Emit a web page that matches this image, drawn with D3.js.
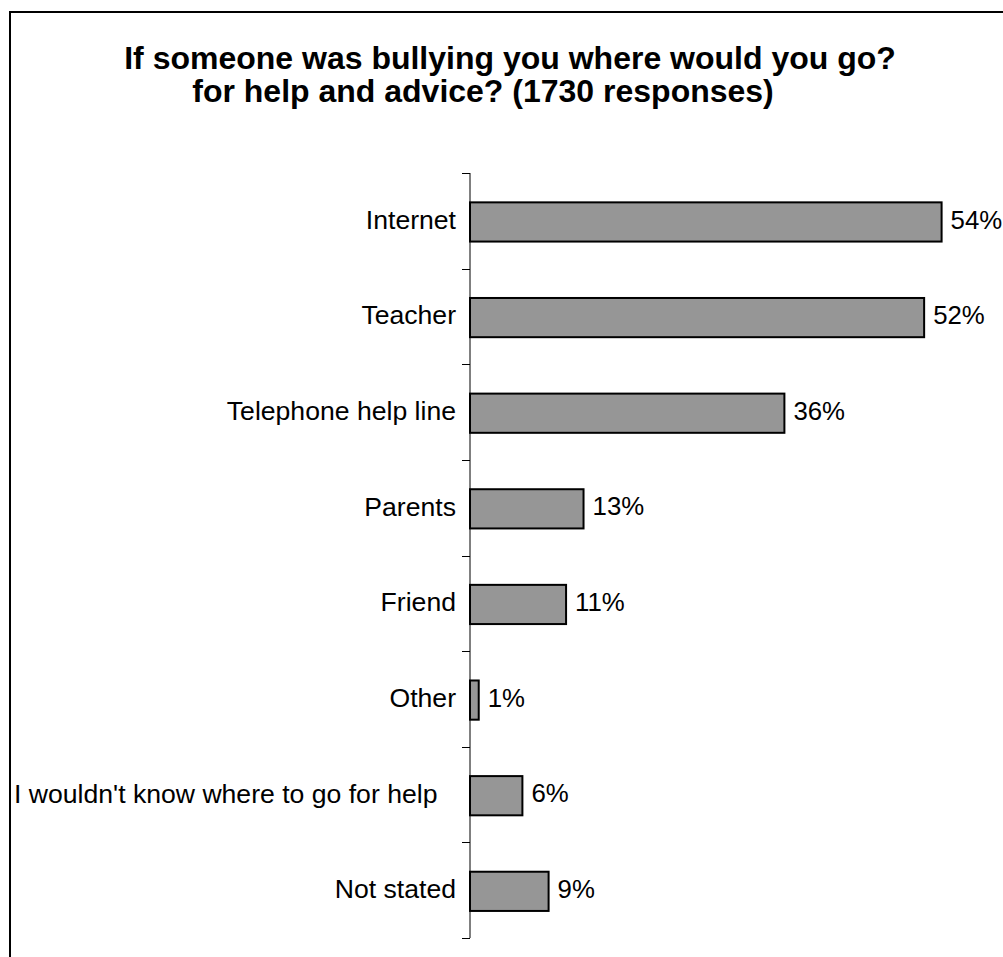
<!DOCTYPE html>
<html>
<head>
<meta charset="utf-8">
<script src="https://cdnjs.cloudflare.com/ajax/libs/d3/7.8.5/d3.min.js"></script>
<style>
  body { margin: 0; background: #fff; }
  text { font-family: "Liberation Sans", Arial, sans-serif; fill: #000; }
</style>
</head>
<body>
<div class="chart"></div>
<script>
// chart data
var categories = ["Internet", "Teacher", "Telephone help line", "Parents", "Friend",
  "Other", "I wouldn't know where to go for help", "Not stated"];
var percents = [54, 52, 36, 13, 11, 1, 6, 9];
var titleLines = ["If someone was bullying you where would you go?",
  "for help and advice? (1730 responses)"];

var svgWidth = 1003;
var svgHeight = 957;

var margin = {
  top: 173,
  left: 470,
  bottom: 19
};

var svg = d3
  .select(".chart")
  .append("svg")
  .attr("width", svgWidth)
  .attr("height", svgHeight);

// outer frame (runs off the right and bottom of the picture)
svg.append("rect")
  .attr("x", 10)
  .attr("y", 12)
  .attr("width", 1100)
  .attr("height", 1100)
  .attr("fill", "none")
  .attr("stroke", "#000")
  .attr("stroke-width", 2);

// title
svg.append("text")
  .attr("x", 510)
  .attr("y", 69)
  .attr("text-anchor", "middle")
  .style("font-size", "32px")
  .style("font-weight", "bold")
  .text(titleLines[0]);

svg.append("text")
  .attr("x", 483)
  .attr("y", 102)
  .attr("text-anchor", "middle")
  .style("font-size", "32px")
  .style("font-weight", "bold")
  .text(titleLines[1]);

// scales
var yScale = d3.scaleBand()
  .domain(categories)
  .range([margin.top, svgHeight - margin.bottom])
  .padding(0);

var xScale = d3.scaleLinear()
  .domain([0, 60])
  .range([margin.left, margin.left + 524]);

var step = yScale.step();

// category axis: line plus ticks on the band boundaries
var axisGroup = svg.append("g");

axisGroup.append("line")
  .attr("x1", margin.left)
  .attr("x2", margin.left)
  .attr("y1", yScale.range()[0])
  .attr("y2", yScale.range()[1])
  .attr("stroke", "#000")
  .attr("stroke-width", 1);

var tickPos = categories.map(d => yScale(d)).concat([yScale.range()[1]]);

axisGroup.selectAll(".tick")
  .data(tickPos)
  .enter()
  .append("line")
  .attr("class", "tick")
  .attr("x1", margin.left - 8)
  .attr("x2", margin.left)
  .attr("y1", d => Math.round(d) + 0.5)
  .attr("y2", d => Math.round(d) + 0.5)
  .attr("stroke", "#000")
  .attr("stroke-width", 1);

// bars
svg.selectAll(".bar")
  .data(percents)
  .enter()
  .append("rect")
  .attr("class", "bar")
  .attr("x", xScale(0))
  .attr("y", (d, i) => yScale(categories[i]) + step * 0.307)
  .attr("width", d => xScale(d) - xScale(0))
  .attr("height", step * 0.41)
  .attr("fill", "#969696")
  .attr("stroke", "#000")
  .attr("stroke-width", 2);

// category labels
var catLabels = svg.selectAll(".cat")
  .data(categories)
  .enter()
  .append("text")
  .attr("class", "cat")
  .attr("x", margin.left - 14)
  .attr("y", d => yScale(d) + step / 2)
  .attr("dy", "0.3em")
  .attr("text-anchor", "end")
  .style("font-size", "26.6px")
  .text(d => d);

// very long labels get pushed to the left edge of the frame
catLabels.each(function() {
  var w = this.getComputedTextLength();
  if (w > 400) {
    d3.select(this)
      .attr("text-anchor", "start")
      .attr("x", 14);
  }
});

// value labels
svg.selectAll(".val")
  .data(percents)
  .enter()
  .append("text")
  .attr("class", "val")
  .attr("x", d => xScale(d) + 9)
  .attr("y", (d, i) => yScale(categories[i]) + step / 2)
  .attr("dy", "0.3em")
  .style("font-size", "25.8px")
  .text(d => d + "%");
</script>
</body>
</html>
